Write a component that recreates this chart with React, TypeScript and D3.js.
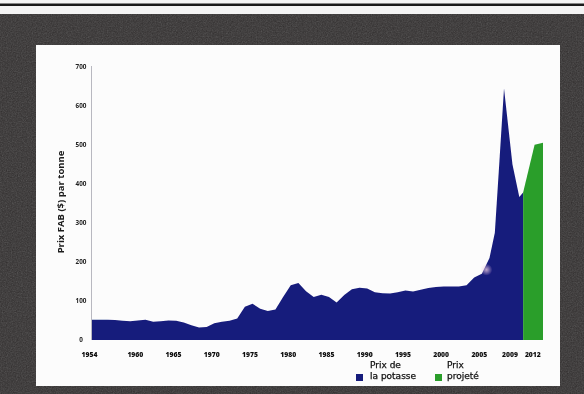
import React from "react";
import * as d3 from "d3";

const years = [
  1954, 1955, 1956, 1957, 1958, 1959, 1960, 1961, 1962, 1963, 1964, 1965, 1966, 1967, 1968, 1969,
  1970, 1971, 1972, 1973, 1974, 1975, 1976, 1977, 1978, 1979, 1980, 1981, 1982, 1983, 1984, 1985,
  1986, 1987, 1988, 1989, 1990, 1991, 1992, 1993, 1994, 1995, 1996, 1997, 1998, 1999, 2000, 2001,
  2002, 2003, 2004, 2005, 2006, 2006.7, 2007.3, 2007.9, 2009, 2009.9, 2010.4,
];
const potashPrice = [
  52, 52, 52, 51, 49, 48, 50, 52, 47, 48, 50, 49, 45, 38, 32, 33,
  43, 47, 49, 55, 85, 93, 80, 74, 78, 110, 140, 146, 125, 110, 116, 110,
  96, 115, 130, 134, 132, 122, 120, 119, 122, 127, 124, 129, 133, 136, 137, 137,
  137, 140, 160, 170, 210, 275, 458, 644, 450, 366, 378,
];
const projYears = [2010.4, 2011.9, 2013];
const projPrice = [378, 500, 505];

const xTickYears = [1954, 1960, 1965, 1970, 1975, 1980, 1985, 1990, 1995, 2000, 2005, 2009, 2012];
const xTickLabels = ["1954", "1960", "1965", "1970", "1975", "1980", "1985", "1990", "1995", "2000", "2005", "2009", "2012"];
const yTicks = [0, 100, 200, 300, 400, 500, 600, 700];

const yTitle = "Prix FAB ($) par tonne";
const legendLabels = [["Prix de", "la potasse"], ["Prix", "projeté"]];

const BLUE = "#161a7c";
const GREEN = "#2a9e2c";
const FONT = "'Open Sans', Lato, sans-serif";
const LEGEND_FONT = "'DejaVu Sans', sans-serif";

export default function App() {
  const x = d3.scaleLinear().domain([1954, 2013]).range([92, 543]);
  const y = d3.scaleLinear().domain([0, 700]).range([340, 66.7]);

  const area = d3
    .area<[number, number]>()
    .x((d) => x(d[0]))
    .y0(y(0))
    .y1((d) => y(d[1]))
    .curve(d3.curveLinear);

  const blueData: [number, number][] = years.map((yr, i) => [yr, potashPrice[i]]);
  const greenData: [number, number][] = projYears.map((yr, i) => [yr, projPrice[i]]);

  return (
    <svg
      width={584}
      height={394}
      style={{ position: "absolute", left: 0, top: 0, display: "block" }}
      fontFamily={FONT}
    >
      <defs>
        <filter id="noise" x="0" y="0" width="100%" height="100%">
          <feTurbulence type="fractalNoise" baseFrequency="0.8" numOctaves="2" result="t" />
          <feColorMatrix type="saturate" values="0" in="t" result="g" />
          <feComponentTransfer in="g" result="n">
            <feFuncA type="linear" slope="0.1" />
          </feComponentTransfer>
          <feComposite in="n" in2="SourceGraphic" operator="in" result="nn" />
          <feMerge>
            <feMergeNode in="SourceGraphic" />
            <feMergeNode in="nn" />
          </feMerge>
        </filter>
        <filter id="blur" x="-5%" y="-5%" width="110%" height="110%">
          <feGaussianBlur stdDeviation="0.45" />
        </filter>
        <radialGradient id="glare">
          <stop offset="0%" stopColor="#e8c8e0" stopOpacity="0.8" />
          <stop offset="100%" stopColor="#e8c8e0" stopOpacity="0" />
        </radialGradient>
      </defs>
      {/* page */}
      <rect x={0} y={0} width={584} height={394} fill="#f4f4f4" />
      <rect x={0} y={3.5} width={584} height={2.5} fill="#1a1a1a" />
      {/* dark frame */}
      <rect x={0} y={14} width={584} height={380} fill="#353333" filter="url(#noise)" />
      {/* white panel */}
      <rect x={36} y={45} width={524} height={341} fill="#fcfcfc" />

      <g filter="url(#blur)">
        {/* y axis line */}
        <line x1={91.5} x2={91.5} y1={66} y2={340} stroke="#b8b8c0" strokeWidth={1} />

        {/* areas */}
        <path d={area(blueData) || ""} fill={BLUE} />
        <path d={area(greenData) || ""} fill={GREEN} />
        <circle cx={x(2005.6)} cy={y(180)} r={6} fill="url(#glare)" />

        {/* y ticks */}
        {yTicks.map((t) => (
          <text
            key={t}
            x={81}
            y={y(t) + 2.3}
            textAnchor="middle"
            fontSize={6.3}
            fontWeight={700}
            fill="#222"
          >
            {t}
          </text>
        ))}

        {/* x ticks */}
        {xTickYears.map((yr, i) => (
          <text
            key={yr}
            x={x(yr) - 2.5}
            y={357}
            textAnchor="middle"
            fontSize={6.8}
            fontWeight={800}
            fill="#111"
          >
            {xTickLabels[i]}
          </text>
        ))}

        {/* y title */}
        <text
          transform={`translate(64, 202) rotate(-90)`}
          textAnchor="middle"
          fontSize={9.5}
          fontWeight={700}
          fill="#1a1a1a"
        >
          {yTitle}
        </text>

        {/* legend */}
        <g fontFamily={LEGEND_FONT} fontSize={9} fill="#111" stroke="#111" strokeWidth={0.25}>
          <rect x={356} y={374} width={7} height={7} fill={BLUE} stroke="none" />
          <text x={370} y={367.5}>{legendLabels[0][0]}</text>
          <text x={370} y={378.5}>{legendLabels[0][1]}</text>
          <rect x={435} y={374} width={7} height={7} fill={GREEN} stroke="none" />
          <text x={447} y={367.5}>{legendLabels[1][0]}</text>
          <text x={447} y={378.5}>{legendLabels[1][1]}</text>
        </g>
      </g>
    </svg>
  );
}
